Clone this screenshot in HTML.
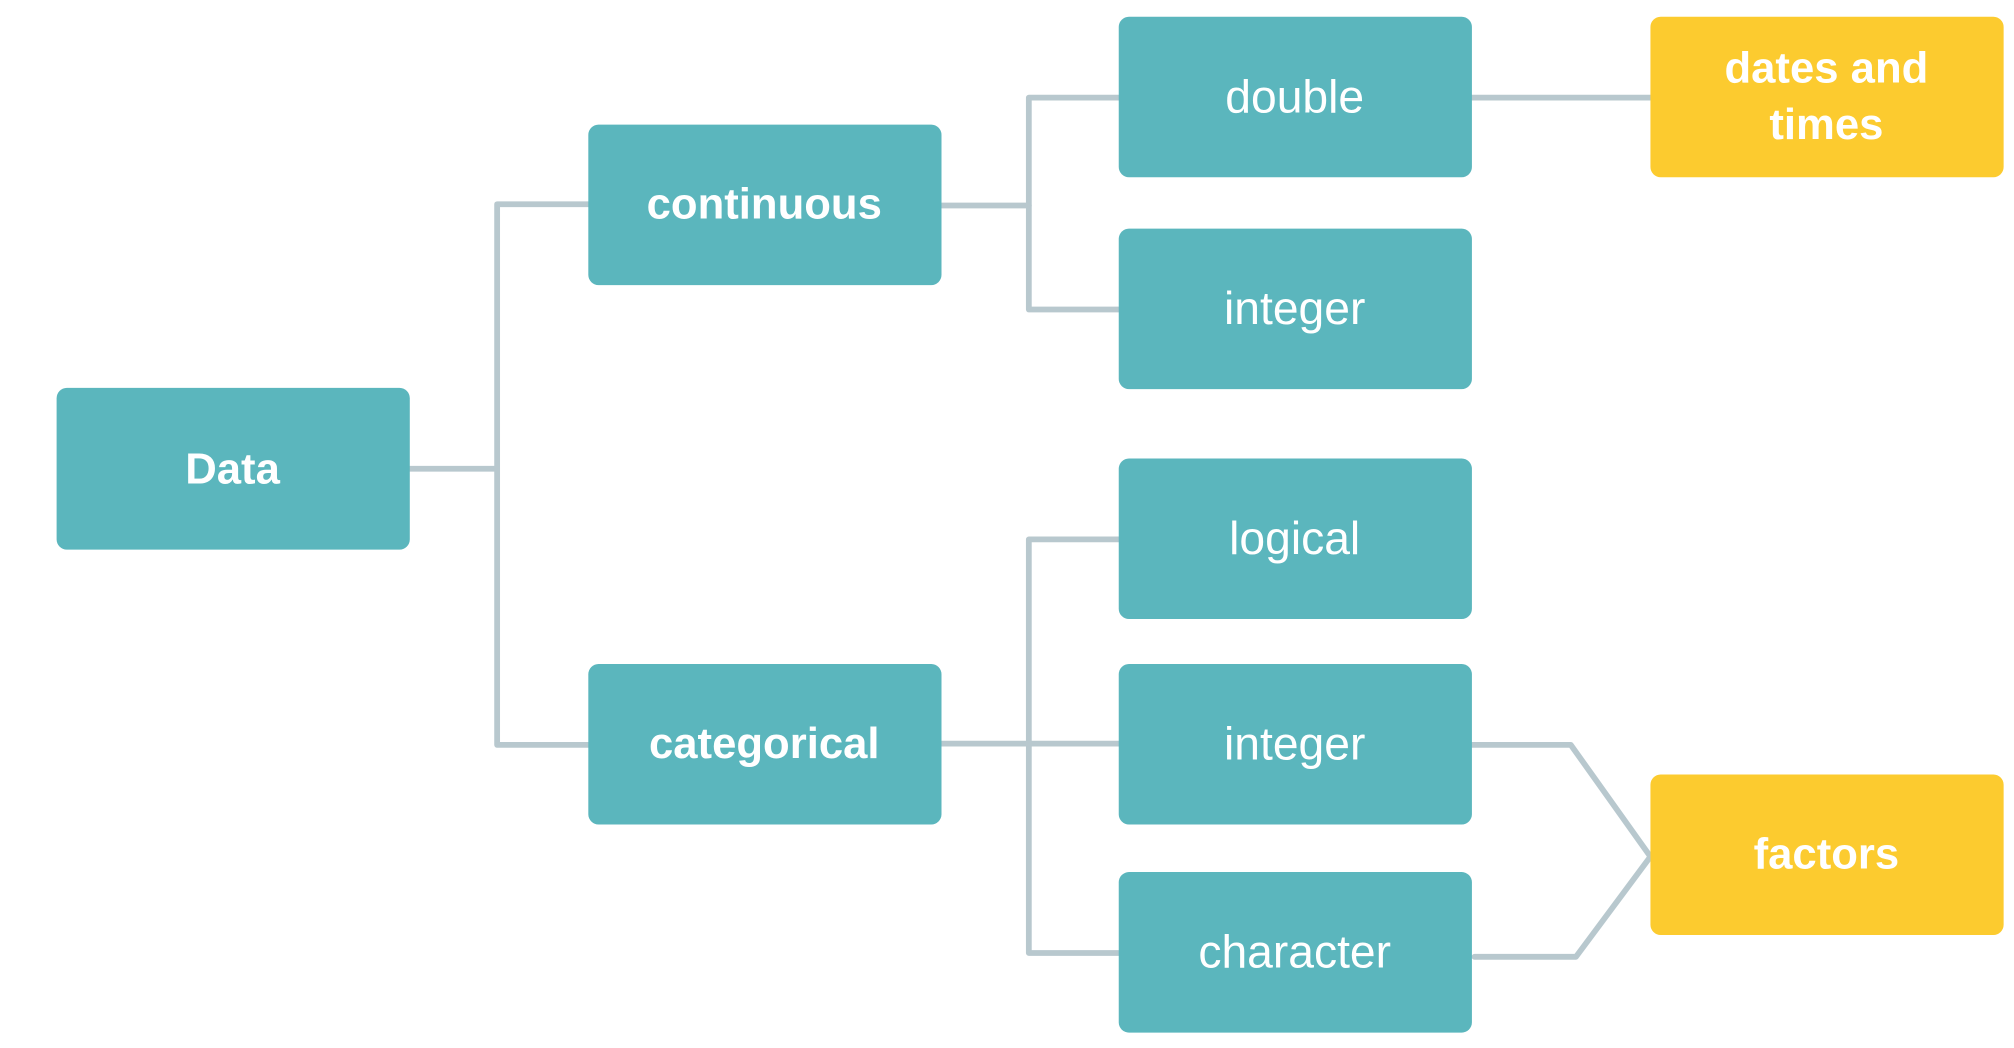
<!DOCTYPE html>
<html><head><meta charset="utf-8"><style>
html,body{margin:0;padding:0;background:#fff;}
svg{display:block;}
text{font-family:"Liberation Sans",sans-serif;fill:#fff;text-anchor:middle;dominant-baseline:central;}
.b{font-weight:bold;font-size:34px;}
.r{font-size:36px;}
</style></head><body>
<svg width="2014" height="1048" viewBox="0 0 1568 816" xmlns="http://www.w3.org/2000/svg">
<g fill="none" stroke="#B8C8CE" stroke-width="4.5" stroke-linecap="round" stroke-linejoin="round">
<path d="M319 365 H387"/>
<path d="M458 159 H387 V580 H458"/>
<path d="M733 160 H801"/>
<path d="M871 76 H801 V241 H871"/>
<path d="M733 579 H871"/>
<path d="M871 420 H801 V742 H871"/>
<path d="M1146 76 H1285"/>
<path d="M1146 580 H1223 L1285 667 L1227 745 H1148"/>
</g>
<g fill="#5BB6BD">
<rect x="44" y="302" width="275" height="126" rx="8"/>
<rect x="458" y="97" width="275" height="125" rx="8"/>
<rect x="458" y="517" width="275" height="125" rx="8"/>
<rect x="871" y="13" width="275" height="125" rx="8"/>
<rect x="871" y="178" width="275" height="125" rx="8"/>
<rect x="871" y="357" width="275" height="125" rx="8"/>
<rect x="871" y="517" width="275" height="125" rx="8"/>
<rect x="871" y="679" width="275" height="125" rx="8"/>
</g>
<g fill="#FCCB2F">
<rect x="1285" y="13" width="275" height="125" rx="8"/>
<rect x="1285" y="603" width="275" height="125" rx="8"/>
</g>
<text class="b" x="181" y="365">Data</text>
<text class="b" x="595" y="159">continuous</text>
<text class="b" x="595" y="579">categorical</text>
<text class="r" x="1008" y="75">double</text>
<text class="r" x="1008" y="240">integer</text>
<text class="r" x="1008" y="419">logical</text>
<text class="r" x="1008" y="579">integer</text>
<text class="r" x="1008" y="741">character</text>
<text class="b" x="1422" y="53">dates and</text>
<text class="b" x="1422" y="97">times</text>
<text class="b" x="1422" y="665">factors</text>
</svg>
</body></html>
